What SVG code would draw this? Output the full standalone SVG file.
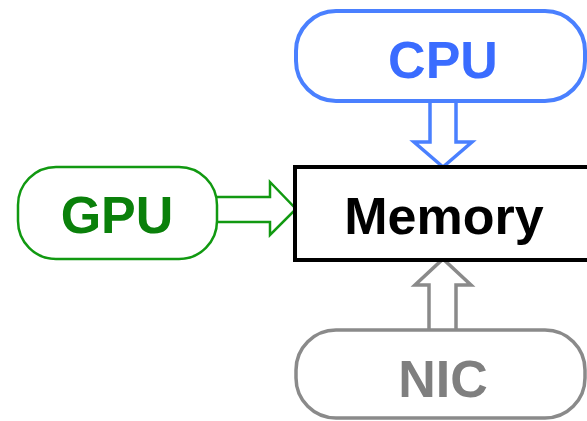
<svg xmlns="http://www.w3.org/2000/svg" width="587" height="421" viewBox="0 0 587 421">
<style>
text{font-family:"Liberation Sans",Arial,sans-serif;font-weight:bold;font-size:52px;text-anchor:middle}
.arrow{fill:#fff;stroke-linejoin:miter}
</style>
<rect width="587" height="421" fill="#fff"/>
<g id="connectors">
<path class="arrow" d="M430,101 V142 H414 L443,167 L472,142 H456 V101" stroke="#4a80ff" stroke-width="3.5"/>
<path class="arrow" d="M217,197 H270 V182 L296,209 L270,235 V222 H217" stroke="#119911" stroke-width="2.5"/>
<path class="arrow" d="M429,329 V285 H415 L443,259 L471,285 H456 V329" stroke="#8a8a8a" stroke-width="3.5"/>
</g>
<g id="cpu">
<rect x="296" y="11" width="289" height="90" rx="40" fill="#fff" stroke="#4a80ff" stroke-width="4"/>
<text x="443" y="78" fill="#3a6cff">CPU</text>
</g>
<g id="gpu">
<rect x="18" y="167" width="199" height="92" rx="38" fill="#fff" stroke="#119911" stroke-width="2.5"/>
<text x="117" y="233" fill="#0a800a">GPU</text>
</g>
<g id="memory">
<rect x="295" y="167" width="300" height="93" fill="#fff" stroke="#000" stroke-width="4"/>
<text x="444" y="234" fill="#000">Memory</text>
</g>
<g id="nic">
<rect x="296" y="330" width="289" height="88" rx="40" fill="#fff" stroke="#8a8a8a" stroke-width="3.5"/>
<text x="443" y="397" fill="#7f7f7f">NIC</text>
</g>
</svg>
